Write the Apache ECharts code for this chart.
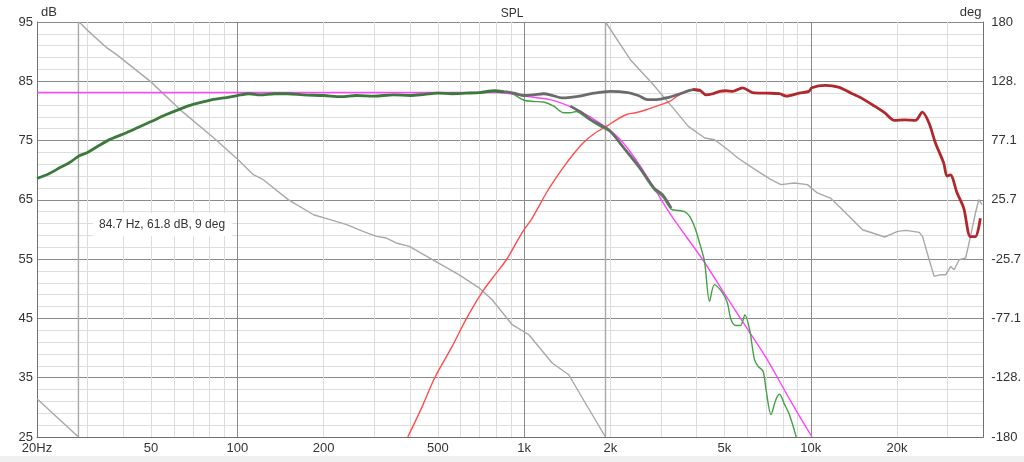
<!DOCTYPE html>
<html>
<head>
<meta charset="utf-8">
<script src="https://cdn.jsdelivr.net/npm/echarts@6/dist/echarts.min.js"></script>
<style>
html,body{margin:0;padding:0;background:#fff;}
#c{width:1024px;height:462px;background:linear-gradient(#fff 0,#fff 456px,#f0f0f0 456px);}
</style>
</head>
<body>
<div id="c"></div>
<script>
// ---- axis tick labels ----
var xTickVals = [20, 50, 100, 200, 500, 1000, 2000, 5000, 10000, 20000];
var xTickLabels = ['20Hz', '50', '100', '200', '500', '1k', '2k', '5k', '10k', '20k'];
var xMinorGrid = [30, 40, 50, 60, 70, 80, 90, 200, 300, 400, 500, 600, 700, 800, 900,
                  2000, 3000, 4000, 5000, 6000, 7000, 8000, 9000, 20000, 30000];
var xMajorGrid = [100, 1000, 10000];
var degTickLabels = ['-180', '-128.', '-77.1', '-25.7', '25.7', '77.1', '128.', '180'];

// ---- woofer / sum, low range (thick green) ----
var lowF = [20,22,24,26,28,30,33,36,40,45,50,56,63,70,80,90,100,110,120,135,150,170,200,230,260,300,350,400,450,500,560,630,700,790,850];
var lowD = [68.6,69.4,70.4,71.3,72.4,73.0,74.2,75.2,76.1,77.2,78.2,79.3,80.3,81.1,81.8,82.2,82.6,82.9,82.7,82.9,82.9,82.7,82.6,82.4,82.6,82.5,82.7,82.6,82.8,83.0,82.9,83.0,83.1,83.4,83.2];

// ---- summed response, mid range (thick gray) ----
var sumF = [800,870,920,1000,1080,1170,1260,1350,1450,1600,1750,2000,2300,2500,2700,2900,3200,3500,3900,4100];
var sumD = [83.3,83.2,83.0,82.6,82.7,82.9,82.6,82.2,82.3,82.6,83.0,83.3,83.1,82.6,81.9,81.9,82.3,82.9,83.6,83.4];

// ---- woofer roll-off (thick gray) ----
var wdF = [1450,1600,1700,1850,2000,2210,2520,2840,3040,3260];
var wdD = [80.8,79.6,78.6,77.6,76.6,74.0,70.6,67.0,65.9,63.6];

// ---- woofer thin (green) ----
var wtF = [700,800,900,1000,1080,1170,1270,1370,1450,1520,1600,1700,1850,2000,2210,2520,2840,3040,3264,3450,3630,3780,3950,4095,4260,4436,4614,4924,5120,5270,5475,5690,5892,6120,6360,6555,6820,6983,7267,7555,7786,8097,8420,8900];
var wtD = [83.0,83.3,83.0,81.8,81.6,81.5,80.8,79.7,79.7,79.9,79.3,78.4,77.3,76.4,73.8,70.3,66.7,65.5,63.4,63.2,63.0,62.2,60.2,57.7,54.6,47.9,50.7,49.3,47.6,44.8,43.8,43.8,45.6,43.1,38.1,36.9,36.1,33.0,28.8,31.3,32.2,30.5,28.8,25.0];

// ---- tweeter thin (red) ----
var ttF = [393,440,488,560,630,718,790,868,930,991,1061,1120,1197,1280,1367,1480,1606,1760,1937,2100,2275,2450,2668,2900,3219,3400,3583,3879];
var ttD = [25,30,35,40.2,45,49.6,52.3,54.9,57.4,59.7,61.7,63.7,66.2,68.4,70.4,72.6,74.6,76.2,77.4,78.5,79.4,79.7,80.2,80.8,81.6,82.4,83.0,83.6];

// ---- tweeter / sum, high range (thick dark red) ----
var thF = [3879,4095,4316,4550,4811,5070,5336,5785,6262,6999,7777,8218,9107,9849,10083,11237,12486,13840,14978,16703,18084,19576,21193,23170,24501,25830,27225,29093,29877,30674,32373,34160,36053,37503,39030];
var thD = [83.6,83.5,82.7,82.9,83.3,83.4,83.3,83.9,83.1,83.0,82.9,82.5,83.0,83.3,83.9,84.3,84.0,83.0,82.2,80.8,79.7,78.4,78.5,78.4,79.8,78.0,74.6,71.2,69.0,69.2,66.2,63.6,58.8,58.8,61.9];

// ---- target (magenta) ----
var tgF = [20,600,700,800,900,1000,1230,1470,1700,1980,2200,2520,2840,3300,4200,5000,6000,7000,8500,10100];
var tgD = [83.1,83.1,83.1,83.1,82.9,82.5,81.9,80.6,79.0,76.8,74.8,71.0,67.0,62.0,54.9,49.2,43.3,38.3,31.1,25];

// ---- phase (gray, degrees, right axis) ----
var phF = [20,24,27.9,27.9,28.6,29.8,35.1,37.9,49.7,63.2,82.8,94.7,100,113.7,123.1,150.4,184.3,210.5,240.4,274.4,305.5,331,358,398,479,592,697,774,909,1039,1253,1432,1635,1923,1923,2348,2790,3274,3740,4268,4622,5139,5568,6400,7265,7869,8761,9735,10540,11710,12800,15160,18110,20100,21510,23900,24540,25880,26940,28420,29580,30800,31640,32930,34700,36070,37540,38550,39600];
var phD = [-146.8,-165,-180,180,178,173.4,157.5,151.7,128.5,103.8,79.4,66.4,61.2,47.5,43.2,25.9,12.8,8.5,4.2,-1.6,-6,-7.4,-11.7,-14.7,-26.2,-39.2,-50.7,-60.9,-82.6,-91.3,-115.8,-126,-150.5,-180,180,147.3,127.1,106.8,89.5,79.4,77.9,69.2,62,52,43.2,38.9,40.3,38.9,31.7,27.3,18,-0.2,-6.5,-1.6,-0.8,-2.5,-6,-26.2,-40.7,-39.2,-39.2,-32,-34.9,-26.2,-24.7,-6,14.3,25.9,21.5];

function zip(f, d) { return f.map(function (v, i) { return [v, d[i]]; }); }

var FONT = '"Liberation Sans", Arial, sans-serif';
var chart = echarts.init(document.getElementById('c'), null, {renderer: 'canvas'});

var gridLines = [];
xMinorGrid.forEach(function (v) { gridLines.push({xAxis: v, lineStyle: {color: '#dcdcdc', width: 1, type: 'solid'}}); });
xMajorGrid.forEach(function (v) { gridLines.push({xAxis: v, lineStyle: {color: '#8a8a8a', width: 1, type: 'solid'}}); });

function lineSeries(name, data, color, width, z, smooth, yIdx) {
  return {
    name: name, type: 'line', data: data, yAxisIndex: yIdx || 0,
    showSymbol: false, symbol: 'none', smooth: smooth, z: z,
    lineStyle: {color: color, width: width}, silent: true, animation: false
  };
}

var phaseSeries = lineSeries('phase', zip(phF, phD), '#a8a8a8', 1.4, 2, false, 1);
phaseSeries.markLine = {
  silent: true, symbol: 'none', z: 1, animation: false,
  label: {show: false}, data: gridLines
};

chart.setOption({
  animation: false,
  textStyle: {fontFamily: FONT},
  title: {
    text: 'SPL', left: 'center', top: 3,
    textStyle: {fontSize: 12, fontWeight: 'normal', color: '#333', fontFamily: FONT}
  },
  grid: {left: 37, right: 40, top: 22, bottom: 25, containLabel: false},
  xAxis: {
    type: 'log', logBase: 10, min: 20, max: 40000,
    axisLine: {show: true, onZero: false, lineStyle: {color: '#707070'}},
    axisTick: {show: false},
    splitLine: {show: false},
    axisLabel: {
      customValues: xTickVals, color: '#333', fontSize: 13, margin: 5, fontFamily: FONT,
      showMinLabel: true, showMaxLabel: true, hideOverlap: false,
      formatter: function (v) {
        var best = 0, bd = Infinity;
        for (var i = 0; i < xTickVals.length; i++) {
          var d = Math.abs(Math.log(v / xTickVals[i]));
          if (d < bd) { bd = d; best = i; }
        }
        return xTickLabels[best];
      }
    }
  },
  yAxis: [{
    type: 'value', min: 25, max: 95, interval: 10, position: 'left',
    name: 'dB', nameLocation: 'end', nameGap: 3,
    nameTextStyle: {align: 'left', verticalAlign: 'bottom', padding: [0, 0, 0, 4], color: '#333', fontSize: 13, fontFamily: FONT},
    axisLine: {show: true, onZero: false, lineStyle: {color: '#707070'}},
    axisTick: {show: false},
    axisLabel: {color: '#333', fontSize: 13, margin: 4, fontFamily: FONT},
    splitLine: {show: true, lineStyle: {color: '#8a8a8a', width: 1}},
    minorTick: {show: false, splitNumber: 5},
    minorSplitLine: {show: true, lineStyle: {color: '#dedede', width: 1}}
  }, {
    type: 'value', min: -180, max: 180, interval: 360 / 7, position: 'right',
    name: 'deg', nameLocation: 'end', nameGap: 3,
    nameTextStyle: {align: 'right', verticalAlign: 'bottom', padding: [0, 2, 0, 0], color: '#333', fontSize: 13, fontFamily: FONT},
    axisLine: {show: true, onZero: false, lineStyle: {color: '#707070'}},
    axisTick: {show: false},
    splitLine: {show: false},
    axisLabel: {
      color: '#333', fontSize: 13, margin: 8, fontFamily: FONT,
      formatter: function (v) { return degTickLabels[Math.round((v + 180) / (360 / 7))]; }
    }
  }],
  graphic: [{
    type: 'text', left: 93, top: 213, silent: true, z: 20,
    style: {
      text: '84.7 Hz, 61.8 dB, 9 deg', fill: '#333', font: '12px ' + FONT,
      backgroundColor: '#ffffff', padding: [6, 7, 5, 6]
    }
  }],
  series: [
    phaseSeries,
    lineSeries('target', zip(tgF, tgD), '#ff44ff', 1.4, 3, 0.3),
    lineSeries('tweeter', zip(ttF, ttD), '#ff4d4d', 1.4, 4, 0.3),
    lineSeries('woofer', zip(wtF, wtD), '#45a045', 1.4, 5, 0.3),
    lineSeries('woofer rolloff', zip(wdF, wdD), '#6b6b6b', 2.6, 6, 0.3),
    lineSeries('sum', zip(sumF, sumD), '#6b6b6b', 2.8, 7, 0.3),
    lineSeries('low', zip(lowF, lowD), '#3c7a3c', 2.8, 8, 0.3),
    lineSeries('high', zip(thF, thD), '#b0282c', 2.8, 9, 0.3)
  ]
});
</script>
</body>
</html>
